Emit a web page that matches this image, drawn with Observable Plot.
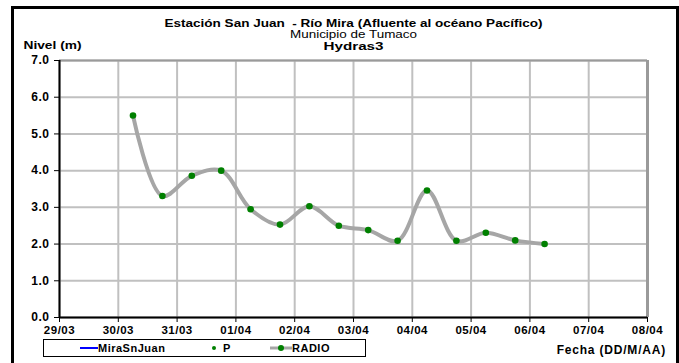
<!DOCTYPE html>
<html>
<head>
<meta charset="utf-8">
<script src="https://cdn.jsdelivr.net/npm/d3@7"></script>
<script src="https://cdn.jsdelivr.net/npm/@observablehq/plot@0.6"></script>
<style>
  html, body { margin: 0; padding: 0; background: #fff; }
  body { width: 679px; height: 363px; overflow: hidden; position: relative; font-family: "Liberation Sans", Arial, sans-serif; }
  #frame { position: absolute; left: 11px; top: 6px; width: 662px; height: 380px; border: 3px solid #000; box-sizing: content-box; pointer-events: none; }
  #chart { position: absolute; left: 0; top: 0; }
  #legend { position: absolute; left: 43px; top: 339px; width: 321px; height: 16px; border: 1.5px solid #000; background: #fff; font-weight: bold; font-size: 11px; letter-spacing: 0.5px; }
  #legend .item { position: absolute; top: 1px; display: flex; align-items: center; height: 14px; }
  #xtitle { position: absolute; right: 13px; top: 343px; font-weight: bold; font-size: 12px; letter-spacing: 0.8px; }
</style>
</head>
<body>
<div id="chart"></div>
<div id="legend"></div>
<div id="xtitle">Fecha (DD/M/AA)</div>
<div id="frame"></div>
<script>
const fechas = ["2011-03-30T06:00","2011-03-30T18:00","2011-03-31T06:00","2011-03-31T18:00","2011-04-01T06:00","2011-04-01T18:00","2011-04-02T06:00","2011-04-02T18:00","2011-04-03T06:00","2011-04-03T18:00","2011-04-04T06:00","2011-04-04T18:00","2011-04-05T06:00","2011-04-05T18:00","2011-04-06T06:00"];
const niveles = [5.50, 3.31, 3.86, 4.00, 2.95, 2.53, 3.03, 2.50, 2.38, 2.09, 3.46, 2.09, 2.31, 2.10, 2.00];
const yTicks = [0, 1, 2, 3, 4, 5, 6, 7];
const xTickLabels = ["29/03","30/03","31/03","01/04","02/04","03/04","04/04","05/04","06/04","07/04","08/04"];
const xTicks = d3.utcDays(new Date("2011-03-29T00:00Z"), new Date("2011-04-08T00:01Z"));
const titulo = "Estación San Juan  - Río Mira (Afluente al océano Pacífico)";
const subtitulo = "Municipio de Tumaco";
const titulo3 = "Hydras3";
const yLabel = "Nivel (m)";
const legendItems = ["MiraSnJuan", "P", "RADIO"];

const data = fechas.map((f, i) => ({fecha: new Date(f + "Z"), nivel: niveles[i]}));
const fmt = d => xTickLabels[xTicks.findIndex(t => +t === +d)];

const plot = Plot.plot({
  width: 679,
  height: 363,
  marginLeft: 59,
  marginRight: 32,
  marginTop: 60,
  marginBottom: 46,
  style: {fontFamily: "Liberation Sans, Arial, sans-serif", fontSize: "10px", fontWeight: "bold", color: "#000", background: "#fff", letterSpacing: "0.5px"},
  x: {type: "utc", domain: [xTicks[0], xTicks[xTicks.length - 1]], ticks: xTicks, tickFormat: fmt, label: null},
  y: {domain: [0, 7], ticks: yTicks, tickFormat: d => d.toFixed(1), label: null},
  marks: [
    Plot.gridX(xTicks, {stroke: "#c0c0c0", strokeOpacity: 1, strokeWidth: 2}),
    Plot.gridY(yTicks, {stroke: "#c0c0c0", strokeOpacity: 1, strokeWidth: 2}),
    Plot.ruleX([xTicks[xTicks.length - 1]], {stroke: "#9a9a9a", strokeWidth: 3}),
    Plot.ruleY([7], {stroke: "#9a9a9a", strokeWidth: 2}),
    Plot.axisX(xTicks, {tickFormat: fmt, tickSize: 5, tickPadding: 3, fontSize: 11.5, fontWeight: "bold", stroke: "#000"}),
    Plot.axisY(yTicks, {tickFormat: d => d.toFixed(1), tickSize: 5, tickPadding: 5, fontSize: 12, fontWeight: "bold", stroke: "#000"}),
    Plot.ruleX([xTicks[0]], {stroke: "#000", strokeWidth: 2}),
    Plot.ruleY([0], {stroke: "#000", strokeWidth: 2}),
    Plot.line(data, {x: "fecha", y: "nivel", curve: "catmull-rom", stroke: "#a6a6a6", strokeWidth: 4}),
    Plot.dot(data, {x: "fecha", y: "nivel", r: 3.3, fill: "#008000", stroke: "none"}),
    Plot.text([titulo], {frameAnchor: "top", dy: -41, fontSize: 10.3, fontWeight: "bold", fill: "#000"}),
    Plot.text([subtitulo], {frameAnchor: "top", dy: -29.5, fontSize: 10, fontWeight: "normal", fill: "#000"}),
    Plot.text([titulo3], {frameAnchor: "top", dy: -18, fontSize: 10.3, fontWeight: "bold", fill: "#000"}),
    Plot.text([yLabel], {frameAnchor: "top-left", dx: -36, dy: -19, textAnchor: "start", fontSize: 11, fontWeight: "bold", fill: "#000"})
  ]
});
document.getElementById("chart").append(plot);

// stretch header texts horizontally to match the wide rendering of the reference
const stretch = {[titulo]: 378, [subtitulo]: 127, [titulo3]: 60, [yLabel]: 58};
d3.select(plot).selectAll("text").each(function() {
  const w = stretch[this.textContent];
  if (w) {
    d3.select(this).attr("textLength", w).attr("lengthAdjust", "spacingAndGlyphs").style("letter-spacing", "0px");
  }
});

const legend = document.getElementById("legend");
const swatches = [
  '<svg width="18" height="10"><line x1="0" y1="5" x2="18" y2="5" stroke="#0000ff" stroke-width="2"/></svg>',
  '<svg width="10" height="10"><circle cx="5" cy="5" r="2" fill="#008000"/></svg>',
  '<svg width="22" height="10"><line x1="0" y1="5" x2="22" y2="5" stroke="#a6a6a6" stroke-width="3"/><circle cx="11" cy="5" r="3" fill="#008000"/></svg>'
];
const lefts = [36, 165, 226];
legendItems.forEach((name, i) => {
  const d = document.createElement("div");
  d.className = "item";
  d.style.left = lefts[i] + "px";
  d.innerHTML = swatches[i] + '<span style="margin-left:' + (i === 1 ? 4 : 0) + 'px">' + name + '</span>';
  legend.append(d);
});
</script>
</body>
</html>
